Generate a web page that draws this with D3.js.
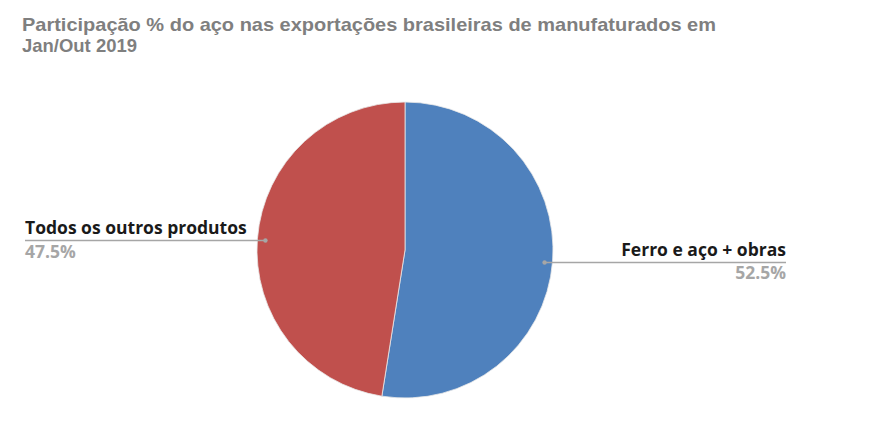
<!DOCTYPE html>
<html>
<head>
<meta charset="utf-8">
<script src="https://d3js.org/d3.v7.min.js"></script>
<style>
  body { margin: 0; background: #fff; }
  text { font-family: "Open Sans", "Noto Sans", sans-serif; }
  .title { font-family: "Liberation Sans", Arial, sans-serif; }
</style>
</head>
<body>
<div id="chart"></div>
<script>
var width = 881, height = 422;

var titleLines = ["Participação % do aço nas exportações brasileiras de manufaturados em", "Jan/Out 2019"];
var titleWidths = [694, 115];
var categories = ["Ferro e aço + obras", "Todos os outros produtos"];
var values = [52.5, 47.5];
var colors = ["#4f81bd", "#c0504d"];

var svg = d3.select("#chart").append("svg")
  .attr("width", width)
  .attr("height", height);

// title
svg.append("g").selectAll("text")
  .data(titleLines)
  .enter().append("text")
  .attr("class", "title")
  .attr("x", 22)
  .attr("y", (d, i) => 31 + i * 21)
  .attr("fill", "#7f7f7f")
  .attr("font-size", 18.5)
  .attr("font-weight", "bold")
  .attr("textLength", (d, i) => titleWidths[i])
  .attr("lengthAdjust", "spacingAndGlyphs")
  .text(d => d);

var cx = 405, cy = 250, radius = 148;

var data = categories.map((c, i) => ({ name: c, value: values[i], color: colors[i] }));

var pie = d3.pie().sort(null).value(d => d.value);
var arc = d3.arc().innerRadius(0).outerRadius(radius);
var arcs = pie(data);

var g = svg.append("g").attr("transform", "translate(" + cx + "," + cy + ")");

g.selectAll("path")
  .data(arcs)
  .enter().append("path")
  .attr("d", arc)
  .attr("fill", d => d.data.color)
  .attr("stroke", "#e8e8e8")
  .attr("stroke-width", 0.8);

// labels with leader lines
var dotR = 140;
var labelPos = [
  { x: 786, anchor: "end" },
  { x: 25, anchor: "start" }
];

arcs.forEach(function(a, i) {
  var mid = (a.startAngle + a.endAngle) / 2;
  var px = cx + dotR * Math.sin(mid);
  var py = cy - dotR * Math.cos(mid) + 1.5;
  var lp = labelPos[i];

  svg.append("line")
    .attr("x1", px).attr("y1", py)
    .attr("x2", lp.x).attr("y2", py)
    .attr("stroke", "#a6a6a6")
    .attr("stroke-width", 1.5);

  svg.append("circle")
    .attr("cx", px).attr("cy", py)
    .attr("r", 2.2)
    .attr("fill", "#a6a6a6");

  svg.append("text")
    .attr("x", lp.x)
    .attr("y", py - 6.5)
    .attr("text-anchor", lp.anchor)
    .attr("fill", "#1a1a1a")
    .attr("font-size", 17.5)
    .attr("font-weight", "bold")
    .text(a.data.name);

  svg.append("text")
    .attr("x", lp.x)
    .attr("y", py + 17)
    .attr("text-anchor", lp.anchor)
    .attr("fill", "#a6a6a6")
    .attr("font-size", 17.5)
    .attr("font-weight", "bold")
    .text(d3.format(".1f")(a.data.value) + "%");
});
</script>
</body>
</html>
